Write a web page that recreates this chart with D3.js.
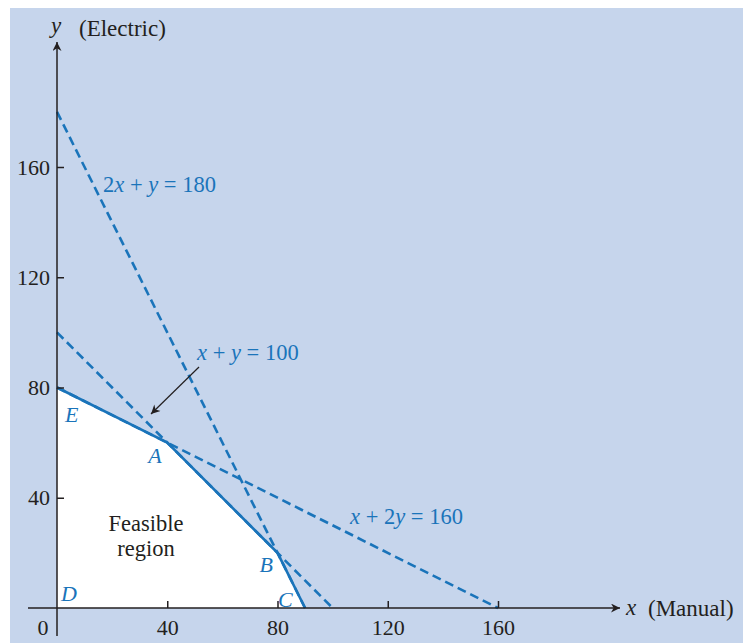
<!DOCTYPE html>
<html><head><meta charset="utf-8">
<script src="https://cdn.jsdelivr.net/npm/d3@7"></script>
<style>body{margin:0;background:#fff}svg{display:block}</style>
</head><body><svg id="c" width="743" height="643"></svg>
<script>
const xTicks = [40, 80, 120, 160];
const yTicks = [40, 80, 120, 160];
const feasible = [[0,0],[90,0],[80,20],[40,60],[0,80]];
const boundary = [[0,80],[40,60],[80,20],[90,0]];
const constraints = [
  {label:"2x + y = 180", p:[[0,180],[90,0]]},
  {label:"x + y = 100", p:[[0,100],[100,0]]},
  {label:"x + 2y = 160", p:[[0,80],[160,0]]}
];
const corners = [
  {name:"A", v:[40,60]}, {name:"B", v:[80,20]}, {name:"C", v:[90,0]},
  {name:"D", v:[0,0]}, {name:"E", v:[0,80]}
];

const BLUE = "#1a74ba", BG = "#c6d5ec", INK = "#231f20";
const svg = d3.select("#c");
const x = d3.scaleLinear().domain([0,160]).range([57,498]);
const y = d3.scaleLinear().domain([0,160]).range([608,167]);
const line = d3.line().x(d=>x(d[0])).y(d=>y(d[1]));

svg.append("rect").attr("x",10).attr("y",8).attr("width",733).attr("height",635).attr("fill",BG);

const defs = svg.append("defs");
defs.append("marker").attr("id","ah").attr("viewBox","0 0 10 10").attr("refX",10).attr("refY",5)
  .attr("markerWidth",18).attr("markerHeight",9).attr("markerUnits","userSpaceOnUse").attr("orient","auto")
  .append("path").attr("d","M0,0 L10,5 L0,10 L3,5 Z").attr("fill",INK);
defs.append("marker").attr("id","ah2").attr("viewBox","0 0 10 10").attr("refX",10).attr("refY",5)
  .attr("markerWidth",14).attr("markerHeight",9).attr("markerUnits","userSpaceOnUse").attr("orient","auto")
  .append("path").attr("d","M0,0 L10,5 L0,10 L3,5 Z").attr("fill",INK);

// feasible region
svg.append("path").attr("d", line(feasible)+"Z").attr("fill","#fff");

// dashed constraint lines
constraints.forEach(c=>{
  svg.append("path").attr("d", line(c.p)).attr("fill","none").attr("stroke",BLUE)
    .attr("stroke-width",2.6).attr("stroke-dasharray","9,5");
});
// solid boundary
svg.append("path").attr("d", line(boundary)).attr("fill","none").attr("stroke",BLUE).attr("stroke-width",2.6);

// axes
svg.append("line").attr("x1",28).attr("x2",620).attr("y1",y(0)).attr("y2",y(0))
  .attr("stroke",INK).attr("stroke-width",1.5).attr("marker-end","url(#ah)");
svg.append("line").attr("x1",x(0)).attr("x2",x(0)).attr("y1",636).attr("y2",42)
  .attr("stroke",INK).attr("stroke-width",1.5).attr("marker-end","url(#ah)");

const font = "'Liberation Serif','Times New Roman',serif";
const gx = svg.append("g").attr("transform",`translate(0,${y(0)})`)
  .call(d3.axisBottom(x).tickValues(xTicks).tickSize(-7).tickPadding(11).tickFormat(d3.format("d")));
gx.select(".domain").remove();
gx.selectAll(".tick line").attr("stroke",INK).attr("stroke-width",1.5);
gx.selectAll("text").attr("font-family",font).attr("font-size",22).attr("fill",INK);

const gy = svg.append("g").attr("transform",`translate(${x(0)},0)`)
  .call(d3.axisLeft(y).tickValues(yTicks).tickSize(-7).tickPadding(7).tickFormat(d3.format("d")));
gy.select(".domain").remove();
gy.selectAll(".tick line").attr("stroke",INK).attr("stroke-width",1.5);
gy.selectAll("text").attr("font-family",font).attr("font-size",22).attr("fill",INK);

svg.append("text").attr("x",43).attr("y",635).attr("text-anchor","middle")
  .attr("font-family",font).attr("font-size",22).attr("fill",INK).text("0");

function t(xp, yp, str, opts={}){
  return svg.append("text").attr("x",xp).attr("y",yp).attr("font-family",font)
    .attr("font-size",opts.size||23).attr("fill",opts.fill||INK)
    .attr("font-style",opts.italic?"italic":"normal").attr("text-anchor",opts.anchor||"start").text(str);
}
t(51,33,"y",{italic:true});
t(79,36,"(Electric)");
t(626,615,"x",{italic:true});
t(648,616,"(Manual)");

function eq(xp, yp, parts){
  const te = svg.append("text").attr("x",xp).attr("y",yp).attr("font-family",font)
    .attr("font-size",22.5).attr("fill",BLUE);
  parts.forEach(p=>te.append("tspan").attr("font-style",p[1]?"italic":"normal").text(p[0]));
}
eq(103,192,[["2",0],["x",1],[" + ",0],["y",1],[" = 180",0]]);
eq(197,360,[["x",1],[" + ",0],["y",1],[" = 100",0]]);
eq(350,524,[["x",1],[" + 2",0],["y",1],[" = 160",0]]);

// annotation arrow
svg.append("line").attr("x1",199).attr("y1",367).attr("x2",151).attr("y2",414)
  .attr("stroke",INK).attr("stroke-width",1.2).attr("marker-end","url(#ah2)");

// corner labels
const cornerOff = {A:[-19,20],B:[-18,19],C:[-27,-1],D:[4,-7],E:[8,34]};
corners.forEach(c=>{
  const o = cornerOff[c.name];
  t(x(c.v[0])+o[0], y(c.v[1])+o[1], c.name, {italic:true, fill:BLUE, size:22});
});

t(146,531,"Feasible",{anchor:"middle",size:22.5});
t(146,556,"region",{anchor:"middle",size:22.5});
</script></body></html>
